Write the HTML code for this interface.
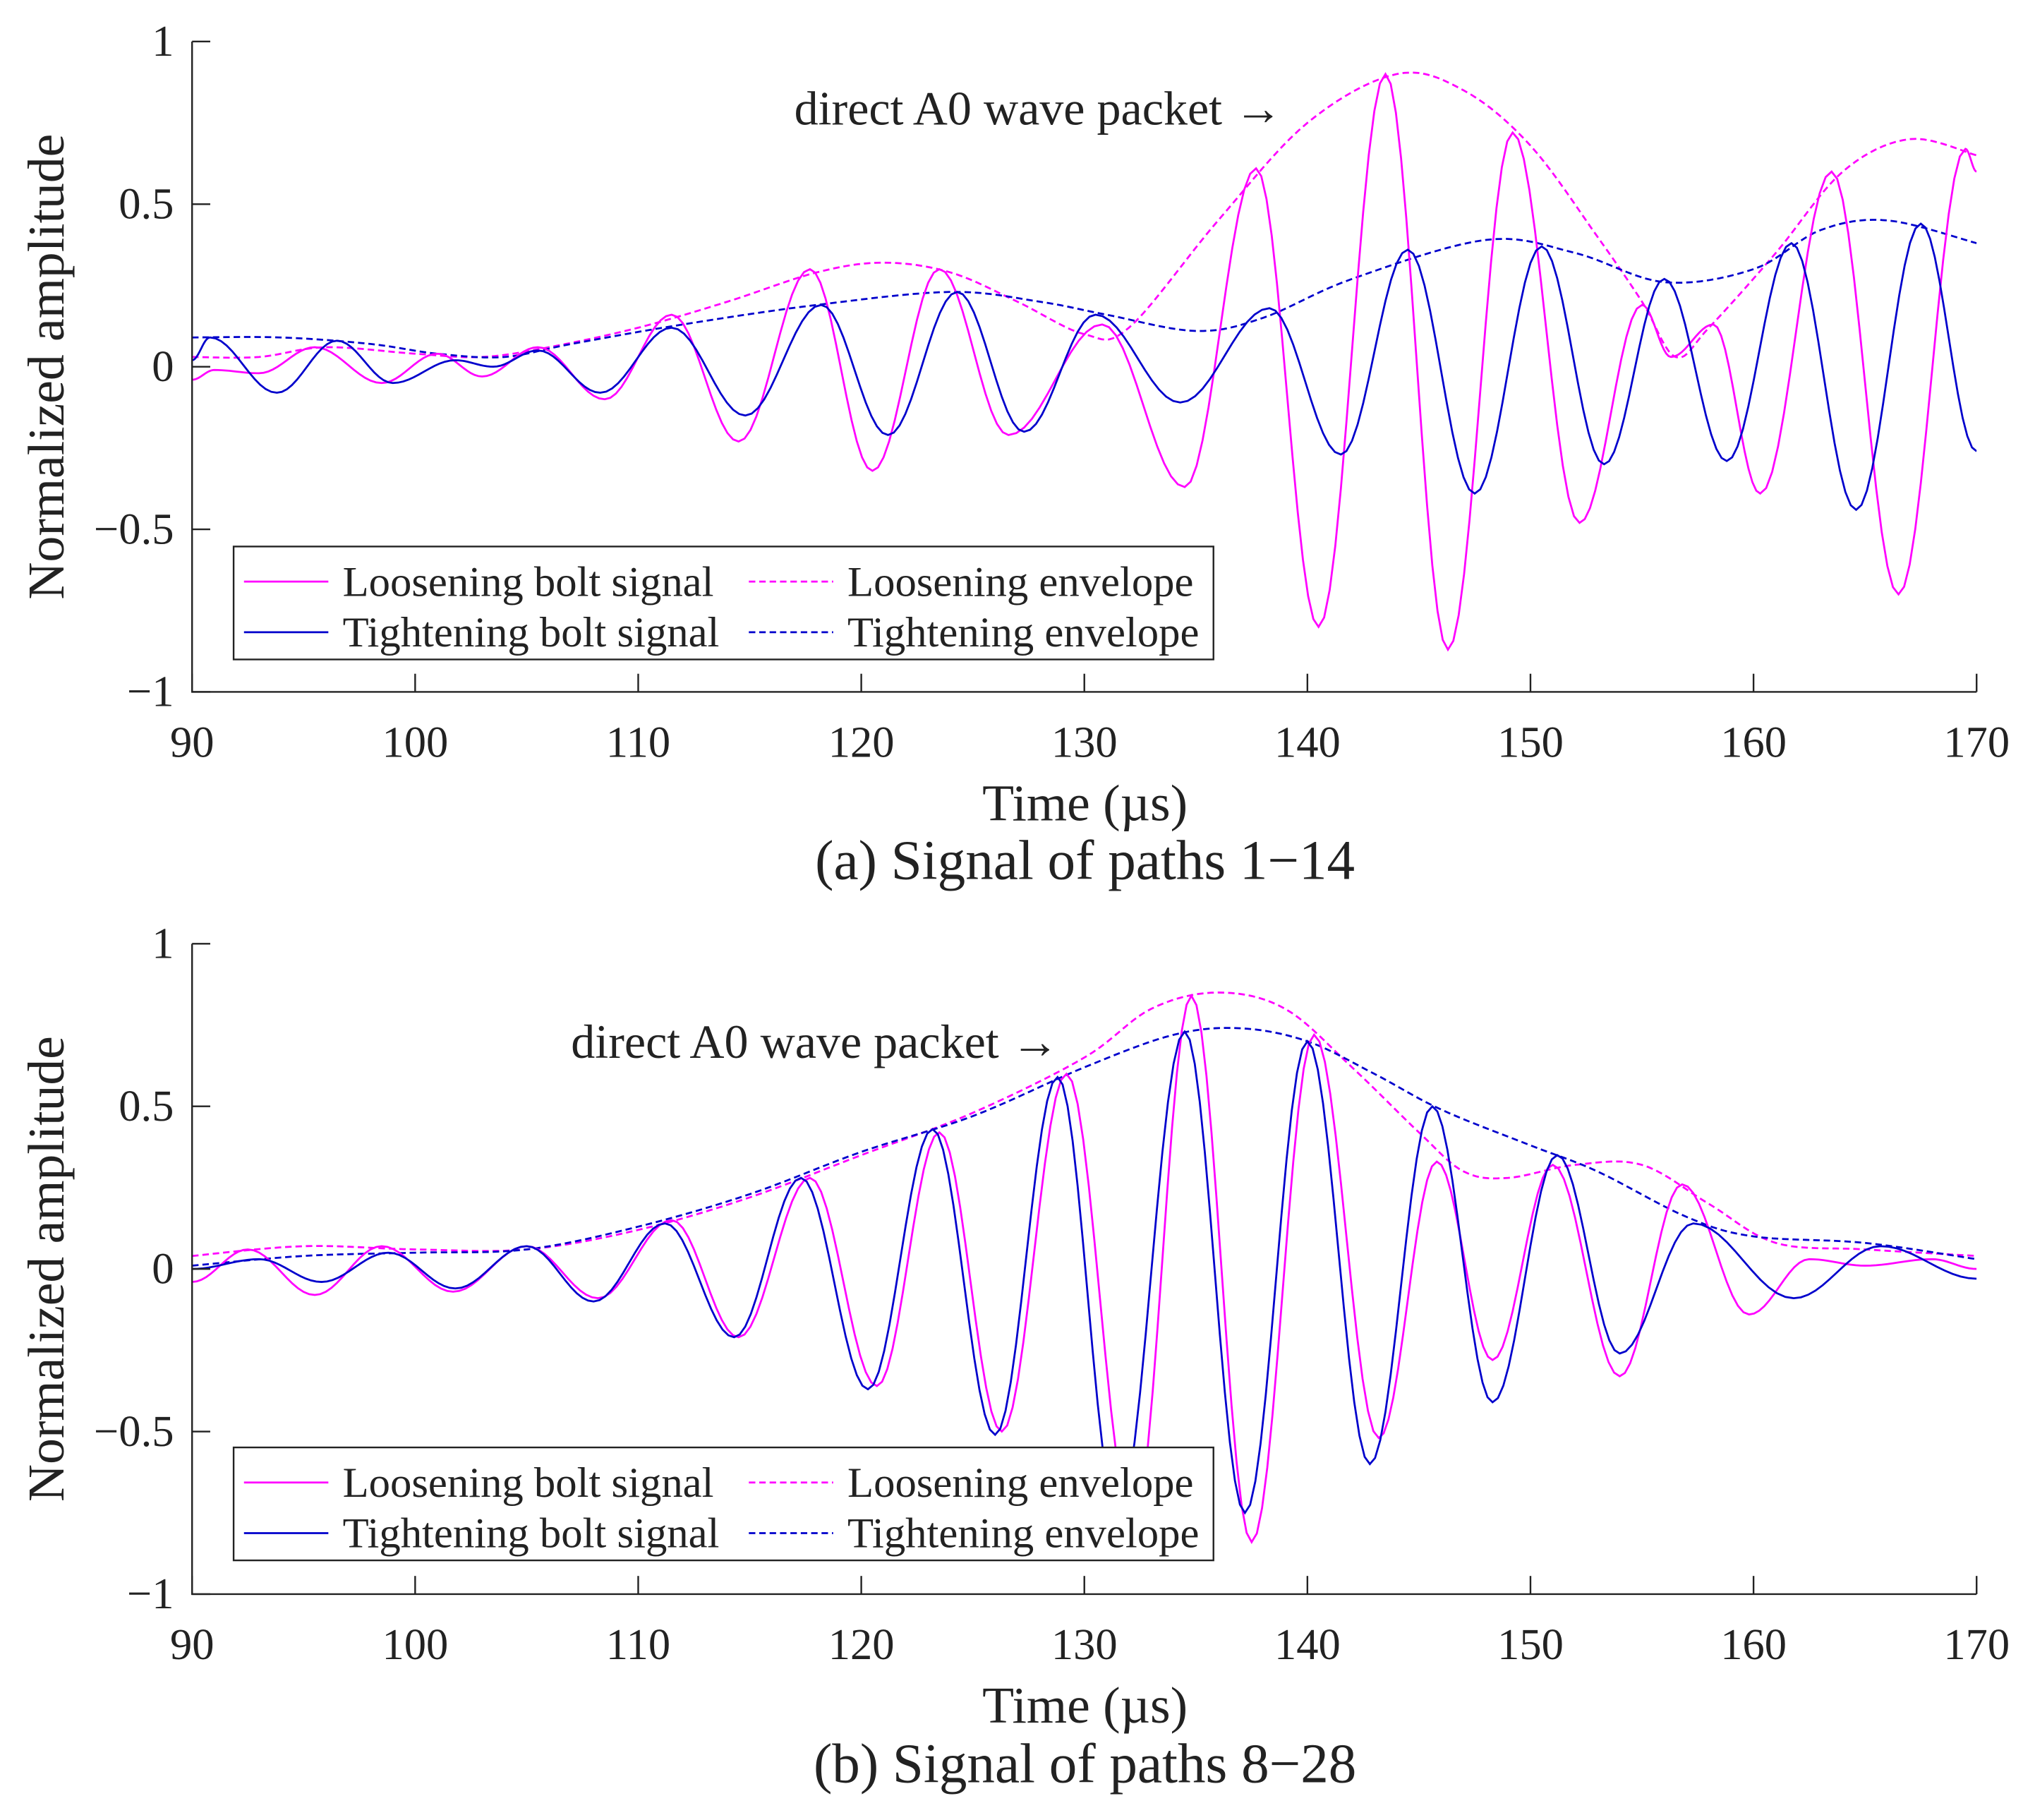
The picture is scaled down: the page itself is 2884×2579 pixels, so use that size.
<!DOCTYPE html>
<html><head><meta charset="utf-8"><style>
html,body{margin:0;padding:0;background:#fff;}
svg{display:block;}
text{font-family:"Liberation Serif",serif;fill:#222;}
</style></head><body>
<svg id="chart" width="2884" height="2579" viewBox="0 0 1568 1402" preserveAspectRatio="none" xmlns="http://www.w3.org/2000/svg"></svg>
<script>
// ---- data (time µs, normalized amplitude) ----
const ticksX=[90,100,110,120,130,140,150,160,170];
const ticksY=[1,0.5,0,-0.5,-1];
const tickYLabels=["1","0.5","0","\u22120.5","\u22121"];
// Panel (a) extrema
const aLoosenT=[90,91,93,95.5,98.5,101,103,105.5,108.5,111.5,114.5,117.7,120.5,123.5,126.6,130.8,134.5,137.7,140.5,143.5,146.3,149.2,152.2,155,156.3,158.2,160.3,163.5,166.5,169.5,170];
const aLoosenV=[-0.04,-0.01,-0.02,0.06,-0.05,0.04,-0.03,0.06,-0.1,0.16,-0.23,0.3,-0.32,0.3,-0.21,0.13,-0.37,0.61,-0.8,0.9,-0.87,0.72,-0.48,0.19,0.03,0.13,-0.39,0.6,-0.7,0.67,0.6];
const aTightT=[90,90.8,93.8,96.5,99,101.8,103.5,105.5,108.3,111.5,114.8,118.2,121.2,124.3,127.3,130.5,134.3,138.3,141.5,144.5,147.5,150.5,153.3,156,158.8,161.7,164.6,167.5,170];
const aTightV=[0.02,0.09,-0.08,0.08,-0.05,0.02,0.0,0.05,-0.08,0.12,-0.15,0.19,-0.21,0.23,-0.2,0.16,-0.11,0.18,-0.27,0.36,-0.39,0.37,-0.3,0.27,-0.29,0.38,-0.44,0.44,-0.26];
const aLoosenEnvT=[90,93,96,100,103,106,110,114,118,121,124,127,130,132,136,140,144,147,150,153,155,156.5,158,161,164,167,170];
const aLoosenEnvV=[0.03,0.03,0.06,0.04,0.03,0.06,0.12,0.2,0.29,0.32,0.29,0.2,0.1,0.12,0.45,0.75,0.9,0.85,0.68,0.4,0.2,0.03,0.12,0.35,0.6,0.7,0.65];
const aTightEnvT=[90,94,98,101,104,107,112,118,124,128,131,135,138,142,148,152,156,160,163,166,170];
const aTightEnvV=[0.09,0.09,0.07,0.04,0.03,0.07,0.13,0.19,0.23,0.2,0.16,0.11,0.15,0.27,0.39,0.35,0.26,0.3,0.42,0.45,0.38];
// Panel (b) extrema
const bLoosenT=[90,92.5,95.5,98.5,101.7,105,108.2,111.5,114.5,117.7,120.7,123.5,126.3,129.2,132.2,134.8,137.5,140.3,143.2,145.8,148.3,151,154,156.8,159.8,162.5,165,168,170];
const bLoosenV=[-0.04,0.06,-0.08,0.07,-0.07,0.07,-0.09,0.15,-0.21,0.28,-0.36,0.42,-0.5,0.6,-0.78,0.84,-0.84,0.72,-0.52,0.33,-0.28,0.32,-0.33,0.26,-0.14,0.03,0.01,0.03,0.0];
const bTightT=[90,93,95.8,98.8,101.8,105,108,111.2,114.3,117.3,120.3,123.2,126,128.8,131.5,134.5,137.2,140,142.8,145.6,148.3,151.2,154,157.3,161.8,165.7,170];
const bTightV=[0.0,0.03,-0.04,0.05,-0.06,0.07,-0.1,0.14,-0.21,0.28,-0.37,0.43,-0.51,0.59,-0.75,0.73,-0.75,0.7,-0.6,0.5,-0.41,0.35,-0.26,0.14,-0.09,0.07,-0.03];
const bLoosenEnvT=[90,95,100,105,110,115,120,125,130,133,136,139,142,145,147,149,152,155,158,161,165,170];
const bLoosenEnvV=[0.04,0.07,0.06,0.06,0.12,0.22,0.35,0.48,0.65,0.8,0.85,0.8,0.62,0.42,0.3,0.28,0.32,0.32,0.2,0.08,0.06,0.04];
const bTightEnvT=[90,95,100,105,110,115,120,125,130,134,137,140,143,146,150,153,157,160,165,170];
const bTightEnvV=[0.01,0.04,0.05,0.06,0.13,0.23,0.36,0.47,0.62,0.72,0.74,0.7,0.6,0.49,0.38,0.3,0.16,0.1,0.08,0.03];

const NS="http://www.w3.org/2000/svg";
const svg=document.getElementById('chart');
function el(tag,attrs,parent){const e=document.createElementNS(NS,tag);for(const k in attrs)e.setAttribute(k,attrs[k]);(parent||svg).appendChild(e);return e;}
const X0=148,X1=1523;
function xs(t){return X0+(t-90)/80*(X1-X0);}
function cosPath(T,V,ys){
  let d='';
  for(let i=0;i<T.length-1;i++){
    for(let k=0;k<=12;k++){
      if(i>0&&k==0)continue;
      const u=k/12,w=(1-Math.cos(Math.PI*u))/2;
      const t=T[i]+(T[i+1]-T[i])*u,v=V[i]+(V[i+1]-V[i])*w;
      d+=(d?'L':'M')+xs(t).toFixed(2)+','+ys(v).toFixed(2);
    }
  }
  return d;
}
function crPath(T,V,ys){
  let d='';const n=T.length;
  const P=i=>[T[Math.max(0,Math.min(n-1,i))],V[Math.max(0,Math.min(n-1,i))]];
  for(let i=0;i<n-1;i++){
    const p0=P(i-1),p1=P(i),p2=P(i+1),p3=P(i+2);
    for(let k=0;k<=10;k++){
      if(i>0&&k==0)continue;
      const u=k/10,u2=u*u,u3=u2*u;
      const f=(a,b,c,e)=>0.5*((2*b)+(-a+c)*u+(2*a-5*b+4*c-e)*u2+(-a+3*b-3*c+e)*u3);
      const t=f(p0[0],p1[0],p2[0],p3[0]),v=f(p0[1],p1[1],p2[1],p3[1]);
      d+=(d?'L':'M')+xs(t).toFixed(2)+','+ys(v).toFixed(2);
    }
  }
  return d;
}
const MAG='#ff00ff',BLU='#0000cc';
function panel(id,yTop,yBot,series,annX,annY,capY,caption,legY){
  const g=el('g',{});
  
  
  const ys=v=>yTop+(1-v)/2*(yBot-yTop);
  const clip=el('clipPath',{id:id+'-clip'},g);
  el('rect',{x:X0,y:yTop-5,width:X1-X0,height:yBot-yTop+10},clip);
  const plot=el('g',{'clip-path':'url(#'+id+'-clip)'},g);
  series.forEach(s=>{
    const p=el('path',{d:s.env?crPath(s.T,s.V,ys):cosPath(s.T,s.V,ys),fill:'none',stroke:s.c,'stroke-width':1.5,'stroke-dasharray':s.env?'5,3':'none'},plot);
    
    
  });
  const ax=el('path',{d:`M${X0},${yTop}L${X0},${yBot}L${X1},${yBot}`,fill:'none',stroke:'#222','stroke-width':1.3},g);
  
  
  ticksX.forEach(t=>{
    el('line',{x1:xs(t),x2:xs(t),y1:yBot,y2:yBot-14,stroke:'#222','stroke-width':1.3},g);
    const tx=el('text',{x:xs(t),y:yBot+50,'font-size':34,'text-anchor':'middle'},g);
    tx.textContent=t;
    
    
  });
  ticksY.forEach((v,i)=>{
    el('line',{x1:X0,x2:X0+14,y1:ys(v),y2:ys(v),stroke:'#222','stroke-width':1.3},g);
    const tx=el('text',{x:X0-14,y:ys(v)+11,'font-size':34,'text-anchor':'end'},g);
    tx.textContent=tickYLabels[i];
    
    
  });
  const yl=el('text',{x:0,y:0,'font-size':40,'text-anchor':'middle',transform:`translate(49,${(yTop+yBot)/2}) rotate(-90)`},g);
  yl.textContent='Normalized amplitude';
  
  
  const xl=el('text',{x:836,y:yBot+99,'font-size':40,'text-anchor':'middle'},g);
  xl.textContent='Time (\u00b5s)';
  
  
  const cp=el('text',{x:836,y:capY,'font-size':43,'text-anchor':'middle'},g);
  cp.textContent=caption;
  
  
  const an=el('text',{x:annX,y:annY,'font-size':37},g);
  an.textContent='direct A0 wave packet \u2192';
  
  
  const lg=el('g',{},g);
  
  
  el('rect',{x:180,y:legY,width:755,height:87,fill:'#fff',stroke:'#222','stroke-width':1.3},lg);
  const items=[[188,legY+27,MAG,false,'Loosening bolt signal'],[188,legY+66,BLU,false,'Tightening bolt signal'],[577,legY+27,MAG,true,'Loosening envelope'],[577,legY+66,BLU,true,'Tightening envelope']];
  items.forEach(it=>{
    const e=el('g',{},lg);
    
    
    el('line',{x1:it[0],x2:it[0]+65,y1:it[1],y2:it[1],stroke:it[2],'stroke-width':1.5,'stroke-dasharray':it[3]?'5,3':'none'},e);
    const t=el('text',{x:it[0]+76,y:it[1]+11,'font-size':33},e);
    t.textContent=it[4];
  });
}
panel('panel-a',32,533,[
  {T:aLoosenEnvT,V:aLoosenEnvV,c:MAG,env:true,name:'loosening-envelope'},
  {T:aTightEnvT,V:aTightEnvV,c:BLU,env:true,name:'tightening-envelope'},
  {T:aLoosenT,V:aLoosenV,c:MAG,env:false,name:'loosening-signal'},
  {T:aTightT,V:aTightV,c:BLU,env:false,name:'tightening-signal'}
],612,96,677,'(a) Signal of paths 1\u221214',421);
panel('panel-b',727,1228,[
  {T:bLoosenEnvT,V:bLoosenEnvV,c:MAG,env:true,name:'loosening-envelope'},
  {T:bTightEnvT,V:bTightEnvV,c:BLU,env:true,name:'tightening-envelope'},
  {T:bLoosenT,V:bLoosenV,c:MAG,env:false,name:'loosening-signal'},
  {T:bTightT,V:bTightV,c:BLU,env:false,name:'tightening-signal'}
],440,815,1373,'(b) Signal of paths 8\u221228',1115);
</script>
</body></html>
